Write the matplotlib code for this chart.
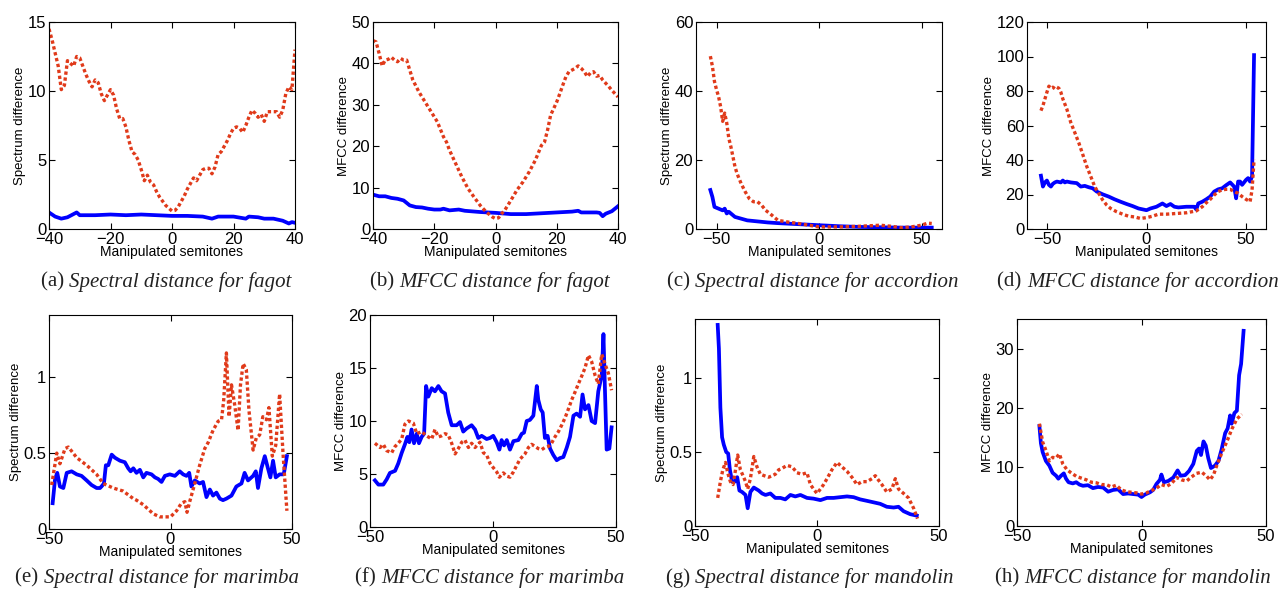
import numpy as np
import matplotlib
matplotlib.use('Agg')
import matplotlib.pyplot as plt

# ---- data (x = manipulated semitones) ----

# (a) spectral distance, fagot
a_red_x = [-40, -39, -37, -36, -35, -34, -33, -32, -31, -30, -29, -28, -27, -26, -25, -24, -23, -22, -21,
           -20, -19, -18, -17, -16, -15, -14, -13, -12, -11, -10, -9, -8, -7, -6, -5, -4, -3, -2, -1, 0,
           1, 2, 3, 4, 5, 6, 7, 8, 9, 10, 11, 12, 13, 14, 15, 16, 17, 18, 19, 20, 21, 22, 23, 24, 25, 26,
           27, 28, 29, 30, 31, 32, 33, 34, 35, 36, 37, 38, 39, 40]
a_red_y = [14.5, 13.7, 11.8, 10.1, 10.4, 12.2, 12.0, 11.8, 12.5, 12.4, 11.8, 11.2, 10.7, 10.3, 10.8, 10.6,
           9.8, 9.3, 9.7, 10.1, 9.7, 8.7, 8.0, 8.0, 7.4, 6.4, 5.6, 5.4, 5.0, 4.3, 3.5, 3.9, 3.4, 3.2, 2.7,
           2.3, 2.0, 1.7, 1.5, 1.3, 1.35, 1.6, 2.0, 2.4, 2.9, 3.3, 3.7, 3.5, 3.9, 4.3, 4.4, 4.4, 4.0, 4.5,
           5.4, 5.6, 6.0, 6.4, 6.9, 7.3, 7.4, 7.3, 7.0, 7.5, 8.1, 8.6, 8.4, 8.1, 8.3, 7.8, 8.5, 8.5, 8.5,
           8.5, 8.1, 8.6, 9.8, 10.3, 10.1, 13.0]
a_blue_x = [-40, -38, -36, -34, -31, -30, -25, -20, -15, -10, -5, 0, 5, 10, 13, 15, 20, 24, 25, 28, 30,
            33, 36, 38, 39, 40]
a_blue_y = [1.2, 0.9, 0.75, 0.85, 1.2, 1.0, 1.0, 1.05, 1.0, 1.05, 1.0, 0.95, 0.95, 0.9, 0.75, 0.9, 0.9,
            0.75, 0.9, 0.85, 0.75, 0.75, 0.6, 0.4, 0.5, 0.45]

# (b) MFCC distance, fagot
b_red_x = [-40, -39, -38, -37, -36, -35, -34, -33, -32, -31, -30, -29, -28, -27, -25, -23, -21, -19, -17,
           -16, -15, -13, -11, -9, -7, -5, -3, -1, 0, 1, 2, 3, 5, 7, 9, 11, 13, 15, 16, 17, 18, 19, 20,
           21, 22, 23, 24, 25, 26, 27, 28, 29, 30, 31, 32, 33, 34, 35, 36, 37, 38, 39, 40]
b_red_y = [45.5, 45.2, 42.4, 39.4, 40.8, 41.0, 41.5, 40.8, 40.4, 41.2, 40.8, 40.8, 38.4, 36.0, 33.1, 30.7,
           28.3, 25.9, 22.3, 21.0, 19.0, 15.8, 12.6, 9.8, 7.7, 5.7, 4.1, 2.9, 2.5, 2.7, 3.7, 4.5, 6.9,
           9.4, 11.4, 13.8, 16.6, 20.2, 21.0, 23.9, 27.5, 29.1, 30.7, 32.7, 34.8, 36.8, 38.0, 38.4, 38.8,
           39.4, 38.8, 38.0, 36.8, 37.7, 38.0, 36.9, 37.1, 36.0, 35.2, 34.4, 33.5, 32.7, 31.9]
b_blue_x = [-40, -38, -36, -34, -32, -30, -28, -26, -24, -22, -20, -18, -17, -15, -12, -10, -5, 0, 5, 10,
            15, 20, 25, 27, 28, 30, 33, 34, 35, 36, 38, 39, 40]
b_blue_y = [8.3, 7.9, 7.9, 7.5, 7.3, 6.9, 5.7, 5.3, 5.2, 4.9, 4.7, 4.7, 4.9, 4.5, 4.7, 4.4, 4.1, 3.9, 3.6,
            3.6, 3.8, 4.0, 4.2, 4.4, 4.0, 4.0, 4.0, 3.9, 3.1, 3.7, 4.3, 4.9, 5.5]

# (c) spectral distance, accordion
c_red_x = [-53, -52, -51, -50, -49, -48, -47, -46, -45, -44, -43, -42, -41, -40, -38, -36, -34, -32, -30,
           -28, -26, -24, -22, -20, -15, -10, -5, 0, 10, 20, 30, 35, 40, 45, 50, 53, 55]
c_red_y = [50.1, 47.2, 42.8, 40.4, 38.4, 35.5, 31.2, 33.6, 30.7, 26.3, 23.9, 21.0, 18.1, 16.1, 13.2, 10.8,
           8.8, 7.9, 7.9, 6.9, 5.4, 4.5, 3.5, 2.5, 2.0, 1.6, 1.1, 0.6, 0.6, 0.8, 1.1, 0.8, 0.4, 0.6, 1.1,
           1.7, 1.6]
c_blue_x = [-53, -52, -51, -49, -47, -46, -45, -44, -43, -41, -38, -35, -30, -25, -20, -10, 0, 10, 20, 30,
            40, 50, 55]
c_blue_y = [11.3, 9.3, 6.4, 5.9, 5.4, 5.9, 4.5, 5.0, 4.5, 3.5, 3.0, 2.5, 2.2, 1.9, 1.7, 1.4, 1.1, 0.8, 0.6,
            0.5, 0.4, 0.4, 0.4]

# (d) MFCC distance, accordion
d_red_x = [-53, -52, -51, -50, -49, -48, -47, -46, -45, -44, -43, -42, -40, -38, -36, -34, -32, -30, -28,
           -26, -24, -22, -20, -18, -15, -12, -9, -6, -3, 0, 3, 6, 10, 15, 20, 25, 28, 30, 32, 34, 36, 38,
           40, 42, 44, 46, 48, 50, 52, 53, 54]
d_red_y = [68.6, 71.5, 75.4, 79.3, 82.8, 81.6, 82.2, 81.3, 82.2, 81.6, 79.3, 75.4, 69.5, 61.7, 55.9, 50.0,
           43.2, 36.3, 30.5, 24.6, 20.7, 16.8, 13.9, 11.9, 10.0, 8.6, 7.4, 7.0, 6.1, 6.6, 7.4, 8.6, 8.6,
           9.0, 9.4, 10.5, 12.9, 15.2, 17.2, 19.7, 21.7, 22.7, 23.0, 23.0, 21.7, 20.7, 18.8, 17.2, 15.8,
           22.7, 40.2]
d_blue_x = [-53, -52, -51, -50, -49, -48, -47, -46, -45, -43, -42, -41, -40, -38, -35, -33, -31, -29, -27,
            -25, -22, -19, -16, -13, -10, -7, -4, 0, 2, 5, 8, 10, 12, 14, 16, 20, 24, 25, 26, 28, 30, 32,
            34, 36, 38, 40, 42, 44, 45, 46, 47, 48, 50, 51, 52, 53, 54]
d_blue_y = [30.9, 24.6, 27.0, 28.1, 25.6, 24.6, 26.2, 27.0, 27.5, 27.0, 28.1, 27.0, 27.5, 27.0, 26.6, 24.6,
            25.0, 24.2, 23.6, 21.7, 20.1, 18.8, 17.2, 15.8, 14.5, 13.3, 11.9, 10.9, 11.9, 12.9, 14.8, 13.3,
            14.5, 12.9, 12.5, 12.9, 12.9, 11.3, 14.8, 15.8, 17.2, 18.8, 21.7, 23.0, 23.6, 25.4, 27.0, 24.6,
            17.8, 27.5, 27.5, 25.6, 28.5, 29.5, 27.5, 30.5, 100.8]

# (e) spectral distance, marimba
e_red_x = [-48.9, -46.8, -45.5, -43.4, -42, -38.6, -34.5, -30.4, -27.7, -23.6, -19.5, -15.3, -14, -11.2,
           -7.1, -4.4, -2.3, 0, 2.5, 4.5, 5.9, 6.8, 7.9, 10, 12, 14.1, 15.5, 17.5, 19.6, 21, 21.9, 23,
           24.1, 25.1, 26.4, 27.8, 28.8, 29.9, 31.2, 32.3, 34, 35.3, 36.7, 38, 39.5, 40.5, 41.9, 43.3,
           44.9, 46.3, 47.9]
e_red_y = [0.29, 0.5, 0.43, 0.53, 0.54, 0.47, 0.42, 0.36, 0.3, 0.27, 0.25, 0.2, 0.19, 0.16, 0.1, 0.08,
           0.08, 0.08, 0.12, 0.17, 0.18, 0.11, 0.18, 0.3, 0.42, 0.53, 0.57, 0.65, 0.71, 0.72, 0.85, 1.16,
           0.74, 0.95, 0.82, 0.65, 0.95, 1.09, 1.05, 0.78, 0.52, 0.6, 0.62, 0.74, 0.72, 0.8, 0.48, 0.55,
           0.89, 0.5, 0.12]
e_blue_x = [-48.5, -47.5, -46.6, -45.5, -44.1, -42.7, -40.7, -38.6, -36.6, -34.5, -32.5, -30.4, -29, -28.4,
            -27.4, -26.6, -25.6, -24.2, -22.9, -20.8, -18.8, -17.4, -16.4, -15.3, -14, -12.6, -11.2, -9.9,
            -7.8, -6.4, -5.1, -3.7, -2.3, -0.3, 1.8, 3.8, 5.2, 6.6, 7.7, 8.6, 10, 12, 13.4, 14.8, 16.2,
            17.5, 18.9, 20.3, 21.6, 23, 25.1, 27.1, 29.2, 30.5, 31.9, 34, 35.1, 36, 37.4, 38.8, 40.1, 41.1,
            42.2, 43.3, 44.9, 46.6, 47.9]
e_blue_y = [0.17, 0.33, 0.37, 0.28, 0.27, 0.37, 0.38, 0.36, 0.35, 0.32, 0.29, 0.27, 0.27, 0.28, 0.3, 0.42,
            0.42, 0.49, 0.47, 0.45, 0.44, 0.4, 0.38, 0.4, 0.37, 0.39, 0.34, 0.37, 0.36, 0.34, 0.33, 0.31,
            0.35, 0.36, 0.35, 0.38, 0.36, 0.35, 0.37, 0.28, 0.32, 0.3, 0.31, 0.21, 0.26, 0.22, 0.24, 0.2,
            0.19, 0.2, 0.22, 0.28, 0.3, 0.37, 0.32, 0.35, 0.38, 0.27, 0.4, 0.48, 0.4, 0.34, 0.45, 0.34, 0.36,
            0.36, 0.48]

# (f) MFCC distance, marimba
f_red_x = [-48, -45.9, -44.6, -43.2, -41.2, -39.8, -38.5, -37.1, -35.8, -34.4, -32.4, -31, -29, -27, -24.9,
           -23.6, -22.2, -20.9, -19.5, -18.2, -16.8, -15.4, -14.1, -12.7, -11.4, -10, -8.7, -7.3, -5.3,
           -3.9, -2.6, -1.2, 0.1, 1.5, 2.6, 4.2, 5.6, 6.9, 8.3, 9.6, 11, 13, 14.4, 15.7, 17.1, 18.4, 19.8,
           21.1, 22.5, 23.8, 25.2, 26.6, 27.9, 29.3, 30.6, 32, 33.3, 34.7, 36, 37.4, 38.8, 40.1, 41.5,
           42.8, 44.2, 45.5, 46.9, 48.2]
f_red_y = [7.9, 7.5, 7.8, 7.2, 7.0, 7.6, 7.9, 8.3, 9.7, 10.0, 9.8, 8.8, 9.0, 8.6, 8.3, 9.2, 8.5, 8.6, 8.8,
           8.7, 7.9, 6.9, 7.4, 8.0, 8.2, 7.5, 7.9, 7.5, 8.0, 7.0, 6.8, 6.0, 5.6, 5.2, 4.7, 5.1, 4.8, 4.7,
           5.2, 5.8, 6.4, 6.9, 7.5, 7.8, 7.6, 7.4, 7.3, 7.5, 7.6, 7.9, 8.5, 9.0, 9.6, 10.3, 11.1, 12.0,
           12.7, 13.5, 14.2, 15.0, 16.2, 15.6, 14.3, 13.5, 16.3, 15.4, 14.5, 12.9]
f_blue_x = [-48, -46.6, -44.6, -43.2, -41.9, -39.8, -38.5, -37.1, -35.8, -34.8, -34, -33.1, -32.1, -31,
            -30.1, -29, -28, -27.2, -26.3, -24.9, -23.6, -22.2, -20.9, -19.5, -18.2, -16.8, -14.8, -13.4,
            -12.1, -10.7, -8.7, -7.3, -6, -4.6, -2.6, -1.2, 0.1, 1.5, 2.6, 3.5, 4.5, 5.6, 6.9, 8.3, 10.3,
            11.7, 12.6, 13.7, 15, 16.4, 17.8, 18.4, 19.4, 20.2, 21.1, 22.2, 23.2, 24.5, 25.9, 27.2, 28.6,
            30, 31.3, 32.7, 34, 35.4, 36.4, 37.4, 38.8, 40.1, 41.5, 42.8, 44.2, 44.9, 45.5, 46.2, 47.3, 48.2]
f_blue_y = [4.4, 4.0, 4.0, 4.5, 5.1, 5.3, 6.0, 7.0, 7.8, 8.5, 8.0, 9.2, 7.9, 8.8, 7.9, 8.5, 8.8, 13.3, 12.3,
            13.1, 12.8, 13.3, 12.8, 12.6, 10.8, 9.6, 9.6, 9.9, 9.0, 9.3, 9.6, 9.2, 8.4, 8.6, 8.3, 8.4, 8.6,
            8.0, 7.3, 8.2, 7.7, 8.2, 7.3, 8.1, 8.2, 8.8, 8.9, 10.0, 10.1, 10.5, 13.3, 12.0, 11.1, 10.8, 8.4,
            8.6, 7.4, 6.8, 6.3, 6.5, 6.6, 7.5, 8.5, 10.5, 10.7, 10.4, 12.5, 11.1, 11.5, 10.0, 9.8, 12.8,
            14.3, 18.2, 13.0, 7.3, 7.4, 9.4]

# (g) spectral distance, mandolin
g_red_x = [-40.7, -39.6, -38.6, -37.5, -36.6, -35.5, -34.4, -33.4, -32.5, -31.4, -30.3, -29.3, -28.4,
           -27.3, -25.9, -24.6, -23.2, -21.6, -19.8, -18.4, -17.1, -15.7, -14.3, -12.3, -10.2, -8.2, -6.1,
           -4.1, -2.7, -1.4, 0, 1.4, 2.7, 4.1, 6.1, 8.2, 10.2, 12.3, 14.3, 16.4, 18.4, 20.5, 22.5, 23.9,
           25.2, 26.6, 28.6, 30.7, 32.1, 33.4, 35.5, 37.5, 39.6, 41.2]
g_red_y = [0.19, 0.3, 0.38, 0.43, 0.36, 0.3, 0.28, 0.38, 0.48, 0.38, 0.34, 0.3, 0.25, 0.32, 0.47, 0.40,
           0.35, 0.34, 0.33, 0.34, 0.35, 0.38, 0.39, 0.41, 0.40, 0.36, 0.35, 0.36, 0.28, 0.25, 0.22, 0.25,
           0.28, 0.32, 0.38, 0.43, 0.40, 0.37, 0.33, 0.28, 0.3, 0.3, 0.32, 0.34, 0.31, 0.28, 0.23, 0.25,
           0.32, 0.25, 0.22, 0.19, 0.12, 0.05]
g_blue_x = [-40.7, -40.2, -39.6, -38.9, -38.2, -37.2, -36.4, -35.7, -34.8, -33.7, -32.7, -31.8, -30.7,
            -29.3, -28.4, -27.3, -25.9, -23.9, -22.5, -21.1, -19.1, -17.1, -15, -13, -10.9, -8.9, -6.8,
            -4.1, -1.4, 1.4, 4.1, 6.8, 9.5, 12.3, 15, 17.7, 20.5, 23.2, 25.9, 28.6, 31.4, 33.4, 35.5, 38.2,
            40.9]
g_blue_y = [1.36, 1.2, 0.8, 0.6, 0.55, 0.5, 0.49, 0.38, 0.3, 0.3, 0.33, 0.24, 0.23, 0.21, 0.12, 0.23, 0.26,
            0.24, 0.22, 0.21, 0.22, 0.19, 0.19, 0.18, 0.21, 0.2, 0.21, 0.19, 0.185, 0.175, 0.19, 0.19, 0.195,
            0.2, 0.195, 0.18, 0.17, 0.16, 0.15, 0.13, 0.125, 0.13, 0.1, 0.08, 0.07]

# (h) MFCC distance, mandolin
h_red_x = [-41, -39.7, -38.4, -37, -35.7, -34.3, -33, -31.6, -29.9, -28.3, -26.2, -24.2, -22.1, -20.1,
           -18.1, -16.1, -14.1, -12.1, -10.1, -8.1, -6, -4, -2, 0, 2, 4, 6, 8, 10.1, 12.1, 14.1, 16.1,
           18.1, 20.1, 22.1, 24.2, 26.2, 27.5, 28.9, 30.2, 32.2, 34.3, 36.3, 38.3, 40.3]
h_red_y = [17.3, 14.2, 12.8, 11.0, 11.6, 11.5, 12.2, 10.5, 9.5, 9.0, 8.4, 8.1, 7.8, 7.4, 7.3, 7.0, 7.0,
           6.6, 6.9, 6.1, 5.8, 5.7, 5.6, 5.4, 5.6, 6.0, 6.4, 7.0, 6.7, 7.2, 8.2, 7.8, 7.6, 8.3, 8.9, 9.1,
           8.4, 7.8, 8.6, 10.2, 12.3, 14.3, 16.4, 18.1, 18.9]
h_blue_x = [-41, -40.4, -39.7, -38.4, -37, -35.7, -34.3, -33.4, -32.3, -31.2, -30.3, -29.3, -27.6, -26.2,
            -24.9, -23.5, -21.5, -19.5, -17.5, -15.4, -13.4, -11.4, -9.4, -7.4, -5.4, -3.4, -1.3, 0, 1.3,
            3.4, 4.7, 6, 7.4, 8, 9, 10.7, 12.8, 14.5, 15.7, 17.5, 19.1, 20.8, 22.2, 23.1, 23.9, 24.9, 25.8,
            26.8, 27.9, 29.5, 30.9, 32.2, 33.6, 34.6, 35.6, 36.2, 37.3, 38.3, 39.2, 40, 41]
h_blue_y = [16.9, 14.0, 12.5, 11.0, 10.2, 9.0, 8.5, 8.0, 8.5, 8.9, 8.0, 7.4, 7.2, 7.4, 7.0, 6.8, 6.9, 6.4,
            6.6, 6.5, 5.8, 6.1, 6.2, 5.4, 5.5, 5.4, 5.3, 4.9, 5.3, 5.7, 6.1, 7.1, 7.8, 8.7, 7.4, 7.6, 8.2,
            9.4, 8.5, 8.6, 9.3, 10.5, 12.7, 13.1, 12.0, 14.3, 13.6, 11.5, 9.8, 10.2, 11.0, 13.0, 15.7, 16.5,
            18.7, 17.3, 19.1, 19.5, 25.5, 27.4, 33.0]

# ---- panels: data, axis ranges, labels ----
panels = [
    (a_blue_x, a_blue_y, a_red_x, a_red_y, (-40, 40), [-40, -20, 0, 20, 40], (0, 15), [0, 5, 10, 15],
     'Spectrum difference', '(a)', 'Spectral distance for fagot'),
    (b_blue_x, b_blue_y, b_red_x, b_red_y, (-40, 40), [-40, -20, 0, 20, 40], (0, 50), [0, 10, 20, 30, 40, 50],
     'MFCC difference', '(b)', 'MFCC distance for fagot'),
    (c_blue_x, c_blue_y, c_red_x, c_red_y, (-60, 60), [-50, 0, 50], (0, 60), [0, 20, 40, 60],
     'Spectrum difference', '(c)', 'Spectral distance for accordion'),
    (d_blue_x, d_blue_y, d_red_x, d_red_y, (-60, 60), [-50, 0, 50], (0, 120), [0, 20, 40, 60, 80, 100, 120],
     'MFCC difference', '(d)', 'MFCC distance for accordion'),
    (e_blue_x, e_blue_y, e_red_x, e_red_y, (-50, 50), [-50, 0, 50], (0, 1.41), [0, 0.5, 1],
     'Spectrum difference', '(e)', 'Spectral distance for marimba'),
    (f_blue_x, f_blue_y, f_red_x, f_red_y, (-50, 50), [-50, 0, 50], (0, 20), [0, 5, 10, 15, 20],
     'MFCC difference', '(f)', 'MFCC distance for marimba'),
    (g_blue_x, g_blue_y, g_red_x, g_red_y, (-50, 50), [-50, 0, 50], (0, 1.4), [0, 0.5, 1],
     'Spectrum difference', '(g)', 'Spectral distance for mandolin'),
    (h_blue_x, h_blue_y, h_red_x, h_red_y, (-50, 50), [-50, 0, 50], (0, 35), [0, 10, 20, 30],
     'MFCC difference', '(h)', 'MFCC distance for mandolin'),
]

# axes boxes in pixels (left, top, right, bottom) and caption centres
W, H = 1280, 593
boxes = [(49, 22, 295, 229), (373, 22, 618, 229), (696, 22, 942, 229), (1027, 22, 1266, 229),
         (49, 315, 292, 529), (370, 315, 616, 527), (695, 319, 939, 526), (1017, 319, 1266, 526)]
captions = [(166, 282), (490, 282), (813, 282), (1138, 282),
            (157, 578), (490, 578), (810, 578), (1133, 578)]

plt.rcParams['font.family'] = ['Liberation Sans', 'DejaVu Sans']
fig = plt.figure(figsize=(W / 100, H / 100), dpi=100)
renderer = fig.canvas.get_renderer()

blue = '#0000ff'
red = '#e03a1a'

for (bx, by, rx, ry, xl, xt, yl, yt, ylab, tag, cap), (l, t, r, b), (cx, cy) in zip(panels, boxes, captions):
    ax = fig.add_axes([l / W, 1 - b / H, (r - l) / W, (b - t) / H])
    ax.plot(bx, by, color=blue, lw=2.7, solid_joinstyle='round')
    ax.plot(rx, ry, color=red, lw=2.4, linestyle=(0, (1, 0.8)))
    ax.set_xlim(*xl)
    ax.set_ylim(*yl)
    ax.set_xticks(xt)
    ax.set_yticks(yt)
    ax.set_yticklabels(['%g' % v for v in yt])
    ax.tick_params(direction='in', top=True, right=True, length=4, width=0.8, labelsize=12, pad=2)
    for s in ax.spines.values():
        s.set_linewidth(0.8)
    ax.set_xlabel('Manipulated semitones', fontsize=10, labelpad=-1)
    ax.set_ylabel(ylab, fontsize=9.5, labelpad=1)

    # caption: upright tag + italic text, centred as one line
    t1 = fig.text(0, 1 - cy / H, tag + ' ', ha='left', va='center', fontsize=15,
                  family='Liberation Serif', color='#222222')
    t2 = fig.text(0, 1 - cy / H, cap, ha='left', va='center', fontsize=15,
                  family='Liberation Serif', style='italic', color='#222222')
    w1 = t1.get_window_extent(renderer).width
    w2 = t2.get_window_extent(renderer).width
    x0 = cx - (w1 + w2) / 2
    t1.set_x(x0 / W)
    t2.set_x((x0 + w1) / W)

fig.savefig('out.png', dpi=100)
